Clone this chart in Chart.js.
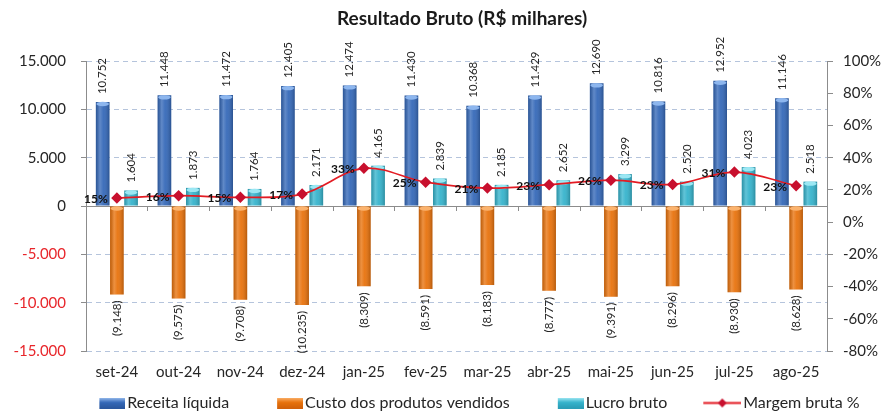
<!DOCTYPE html>
<html>
<head>
<meta charset="utf-8">
<script src="https://cdn.jsdelivr.net/npm/chart.js@4.4.1/dist/chart.umd.min.js"></script>
<style>
  html, body { margin: 0; padding: 0; background: #fff; }
</style>
</head>
<body>
<canvas id="graficoResultado" width="882" height="412"></canvas>
<script>
  const meses = ['set-24', 'out-24', 'nov-24', 'dez-24', 'jan-25', 'fev-25', 'mar-25', 'abr-25', 'mai-25', 'jun-25', 'jul-25', 'ago-25'];
  const receitaLiquida = [10752, 11448, 11472, 12405, 12474, 11430, 10368, 11429, 12690, 10816, 12952, 11146];
  const custoProdutos = [-9148, -9575, -9708, -10235, -8309, -8591, -8183, -8777, -9391, -8296, -8930, -8628];
  const lucroBruto = [1604, 1873, 1764, 2171, 4165, 2839, 2185, 2652, 3299, 2520, 4023, 2518];
  const margemBruta = [14.9, 16.4, 15.4, 17.4, 33.4, 24.8, 21.1, 23.2, 26.0, 23.3, 31.1, 22.6];

  // eixos: valores em R$ mil à esquerda, % à direita
  const eixoValor = { min: -15000, max: 15000, passo: 5000 };
  const eixoPerc = { min: -80, max: 100, passo: 20 };

  const fonte = 'Lato, "Open Sans", sans-serif';

  function milhar(v) {
    return String(Math.abs(Math.round(v))).replace(/\B(?=(\d{3})+(?!\d))/g, '.');
  }

  // cores das barras: base, brilho do topo, topo/fundo do ícone da legenda
  const coresBarras = [
    { base: '#3468B8', tampa: '#8DB6EE', claro: '#9CC0F0', escuro: '#2A569C' },
    { base: '#E8720C', tampa: '#FBB36E', claro: '#FBB36E', escuro: '#D0600A' },
    { base: '#35B3CC', tampa: '#9BE7F3', claro: '#A5EAF5', escuro: '#2A9CB5' }
  ];

  // ícones da legenda (imagem de 67px centrada num quadro de 55px, parte visível à direita)
  function iconeBarra(c) {
    const cv = document.createElement('canvas');
    cv.width = 67; cv.height = 11;
    const g = cv.getContext('2d');
    const gr = g.createLinearGradient(0, 0, 0, 11);
    gr.addColorStop(0, c.claro);
    gr.addColorStop(0.45, c.base);
    gr.addColorStop(1, c.escuro);
    g.fillStyle = gr;
    g.fillRect(41, 0, 26, 11);
    return cv;
  }

  function iconeLinha() {
    const cv = document.createElement('canvas');
    cv.width = 67; cv.height = 11;
    const g = cv.getContext('2d');
    g.strokeStyle = '#E31B23';
    g.lineWidth = 2;
    g.beginPath(); g.moveTo(29, 5.5); g.lineTo(67, 5.5); g.stroke();
    g.fillStyle = '#C8102E';
    g.beginPath();
    g.moveTo(48, 1); g.lineTo(52.5, 5.5); g.lineTo(48, 10); g.lineTo(43.5, 5.5);
    g.closePath(); g.fill();
    return cv;
  }

  const icones = [iconeBarra(coresBarras[0]), iconeBarra(coresBarras[1]), iconeBarra(coresBarras[2]), iconeLinha()];

  // efeito de volume nas barras (estilo Excel)
  const brilhoBarras = {
    id: 'brilhoBarras',
    afterDatasetDraw(chart, args) {
      const meta = args.meta;
      if (meta.type !== 'bar') return;
      const ctx = chart.ctx;
      const cor = coresBarras[args.index];
      meta.data.forEach(bar => {
        const { x, y, base, width } = bar.getProps(['x', 'y', 'base', 'width'], true);
        const l = x - width / 2;
        const topo = Math.min(y, base);
        const h = Math.abs(base - y);
        const g = ctx.createLinearGradient(l, 0, l + width, 0);
        g.addColorStop(0, 'rgba(0,0,0,0.18)');
        g.addColorStop(0.3, 'rgba(255,255,255,0.22)');
        g.addColorStop(0.55, 'rgba(255,255,255,0.06)');
        g.addColorStop(1, 'rgba(0,0,0,0.22)');
        ctx.save();
        ctx.fillStyle = g;
        ctx.fillRect(l, topo, width, h);
        ctx.fillStyle = cor.tampa;
        ctx.beginPath();
        ctx.ellipse(x, topo + 2, width / 2 - 0.5, 2.2, 0, 0, Math.PI * 2);
        ctx.fill();
        ctx.restore();
      });
    }
  };

  const rotulos = {
    id: 'rotulos',
    afterDatasetsDraw(chart) {
      const ctx = chart.ctx;
      chart.data.datasets.forEach((ds, i) => {
        const meta = chart.getDatasetMeta(i);
        meta.data.forEach((el, j) => {
          const v = ds.data[j];
          ctx.save();
          if (meta.type === 'bar') {
            ctx.translate(el.x, el.y);
            ctx.rotate(-Math.PI / 2);
            ctx.font = '11.5px ' + fonte;
            ctx.fillStyle = '#262626';
            ctx.textBaseline = 'middle';
            if (v >= 0) {
              ctx.textAlign = 'left';
              ctx.fillText(milhar(v), 8, 0);
            } else {
              ctx.textAlign = 'right';
              ctx.fillText('(' + milhar(v) + ')', -6, 0);
            }
          } else {
            ctx.font = 'bold 12px ' + fonte;
            ctx.fillStyle = '#111';
            ctx.textAlign = 'right';
            ctx.textBaseline = 'middle';
            ctx.fillText(Math.round(v) + '%', el.x - 9, el.y + 1);
          }
          ctx.restore();
        });
      });
    }
  };

  const corGrade = '#B5C4DC';
  const corEixo = '#8C8C8C';

  new Chart(document.getElementById('graficoResultado'), {
    data: {
      labels: meses,
      datasets: [
        { type: 'bar', label: 'Receita líquida', data: receitaLiquida, backgroundColor: coresBarras[0].base, order: 1, xAxisID: 'x', yAxisID: 'y' },
        { type: 'bar', label: 'Custo dos produtos vendidos', data: custoProdutos, backgroundColor: coresBarras[1].base, order: 1, xAxisID: 'x', yAxisID: 'y' },
        { type: 'bar', label: 'Lucro bruto', data: lucroBruto, backgroundColor: coresBarras[2].base, order: 1, xAxisID: 'x', yAxisID: 'y' },
        {
          type: 'line', label: 'Margem bruta %', data: margemBruta, order: 0, xAxisID: 'x', yAxisID: 'y1',
          borderColor: '#E31B23', borderWidth: 1.75, tension: 0.35,
          pointStyle: 'rectRot', pointRadius: 4.5,
          pointBackgroundColor: '#C8102E', pointBorderColor: '#C8102E'
        }
      ]
    },
    options: {
      responsive: false,
      animation: false,
      categoryPercentage: 0.69,
      barPercentage: 0.96,
      layout: { padding: { left: 10, right: -32, top: 0, bottom: -9 } },
      plugins: {
        tooltip: { enabled: false },
        title: {
          display: true,
          text: 'Resultado Bruto (R$ milhares)',
          color: '#1A1A1A',
          font: { family: fonte, size: 19, weight: 'bold' },
          padding: { top: 7, bottom: 31.2 }
        },
        legend: {
          position: 'bottom',
          labels: {
            usePointStyle: true,
            pointStyleWidth: 55,
            padding: 13,
            color: '#262626',
            font: { family: fonte, size: 16 },
            generateLabels: chart => chart.data.datasets.map((ds, i) => ({
              text: ds.label,
              pointStyle: icones[i],
              datasetIndex: i,
              fontColor: '#262626',
              fillStyle: 'transparent',
              strokeStyle: 'transparent',
              lineWidth: 0,
              hidden: false
            }))
          }
        }
      },
      scales: {
        x: {
          position: 'bottom',
          grid: { display: false, drawTicks: false },
          border: { display: false },
          ticks: { color: '#262626', font: { family: fonte, size: 15 }, padding: 12 },
          afterFit: s => { s.height = 31; }
        },
        x2: {
          type: 'category',
          position: { y: 0 },
          offset: true,
          grid: { offset: true, drawOnChartArea: false, drawTicks: true, tickLength: 5, color: corEixo },
          border: { display: false },
          ticks: { display: false }
        },
        y: {
          position: 'left',
          min: eixoValor.min,
          max: eixoValor.max,
          ticks: {
            stepSize: eixoValor.passo,
            padding: 15,
            font: { family: fonte, size: 15 },
            color: c => (c.tick && c.tick.value < 0) ? '#E8262B' : '#262626',
            callback: v => (v < 0 ? '-' : '') + milhar(v)
          },
          grid: {
            color: c => (c.tick && c.tick.value === 0) ? corEixo : corGrade,
            tickColor: corEixo,
            tickLength: 5
          },
          border: {
            display: true,
            color: corEixo,
            dash: c => (c.tick && c.tick.value === 0) ? [] : [5, 4]
          },
          afterFit: s => { s.width = 76; }
        },
        y1: {
          position: 'right',
          min: eixoPerc.min,
          max: eixoPerc.max,
          ticks: {
            stepSize: eixoPerc.passo,
            padding: 10,
            font: { family: fonte, size: 15 },
            color: '#262626',
            callback: v => v + '%'
          },
          grid: { drawOnChartArea: false, tickLength: 6, color: corEixo },
          border: { display: true, color: corEixo },
          afterFit: s => { s.width = 87; }
        }
      }
    },
    plugins: [brilhoBarras, rotulos]
  });
</script>
</body>
</html>
